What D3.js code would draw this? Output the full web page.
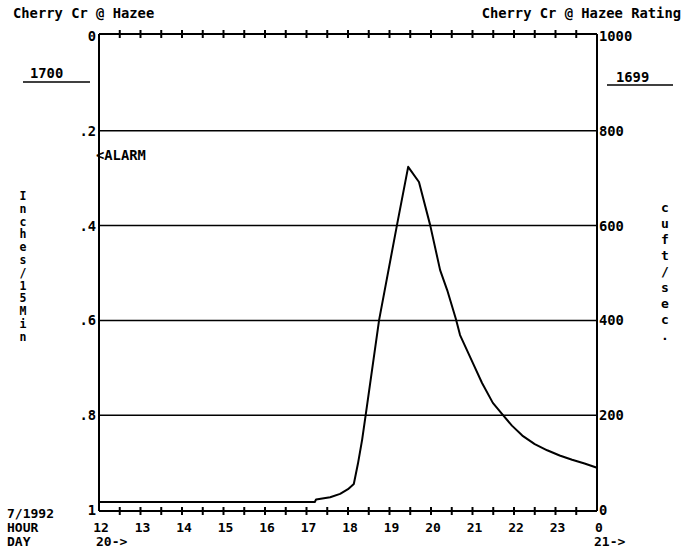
<!DOCTYPE html>
<html>
<head>
<meta charset="utf-8">
<script src="https://cdn.jsdelivr.net/npm/d3@7"></script>
<style>
  html, body { margin: 0; padding: 0; background: #fff; }
  svg text { font-family: "DejaVu Sans Mono", "Liberation Mono", monospace; font-weight: bold; fill: #000; }
</style>
</head>
<body>
<svg id="chart" width="696" height="548"></svg>
<script>
// Stream flow at Cherry Cr @ Hazee, 20 July 1992 (hour of day, cu ft/sec)
const flowHours = [12.0, 17.2, 17.23, 17.57, 17.81, 18.0, 18.14, 18.24, 18.34, 18.43, 18.75, 19.18, 19.45,
                   19.71, 19.98, 20.22, 20.39, 20.60, 20.70, 21.01, 21.23, 21.49, 21.71, 21.95, 22.2, 22.5,
                   22.8, 23.1, 23.4, 23.7, 24.0];
const flowCfs   = [17, 17, 22, 27, 34, 44, 55, 98, 148, 203, 401, 601, 724,
                   692, 601, 506, 464, 403, 369, 310, 268, 226, 203, 178, 157, 139,
                   126, 115, 106, 98, 89];

// Axis ticks and labels
const rainTicks   = [0, 0.2, 0.4, 0.6, 0.8, 1];
const rainLabels  = ["0", ".2", ".4", ".6", ".8", "1"];
const flowTicks   = [1000, 800, 600, 400, 200, 0];
const hourTicks   = [12, 13, 14, 15, 16, 17, 18, 19, 20, 21, 22, 23, 24];
const hourLabels  = ["12", "13", "14", "15", "16", "17", "18", "19", "20", "21", "22", "23", "0"];
const dayMarks    = [{ hour: 12, label: "20->" }, { hour: 24, label: "21->" }];
const leftTitle   = "Inches/15Min";
const rightTitle  = "cuft/sec.";

const svg = d3.select("#chart");
const plotLeft = 99, plotRight = 597, plotTop = 34, plotBottom = 511;
const fs = 13.8;

const x = d3.scaleLinear().domain([12, 24]).range([plotLeft, plotRight]);
const yRain = d3.scaleLinear().domain([0, 1]).range([36, 510]);
const yFlow = d3.scaleLinear().domain([0, 1000]).range([510, 36]);

// Titles
svg.append("text").attr("x", 13).attr("y", 18).attr("font-size", fs).text("Cherry Cr @ Hazee");
svg.append("text").attr("x", 681).attr("y", 18).attr("font-size", fs).attr("text-anchor", "end")
   .text("Cherry Cr @ Hazee Rating");

// Horizontal grid lines
svg.append("g").selectAll("line")
  .data(rainTicks.filter(d => d > 0 && d < 1))
  .join("line")
  .attr("x1", plotLeft).attr("x2", plotRight)
  .attr("y1", d => yRain(d)).attr("y2", d => yRain(d))
  .attr("stroke", "#000").attr("stroke-width", 1.5);

// Frame: top, bottom, left, right axis lines
const frame = svg.append("g").attr("stroke", "#000").attr("stroke-width", 2);
frame.append("line").attr("x1", plotLeft).attr("x2", plotRight).attr("y1", plotTop).attr("y2", plotTop);
frame.append("line").attr("x1", plotLeft).attr("x2", plotRight).attr("y1", plotBottom).attr("y2", plotBottom);
frame.append("line").attr("x1", plotLeft).attr("x2", plotLeft).attr("y1", plotTop).attr("y2", plotBottom);
frame.append("line").attr("x1", plotRight).attr("x2", plotRight).attr("y1", plotTop).attr("y2", plotBottom);

// Half-hour tick marks crossing the top and bottom axes
const halfHours = d3.range(12.5, 24, 0.5);
[plotTop, plotBottom].forEach(yy => {
  svg.append("g").selectAll("line")
    .data(halfHours)
    .join("line")
    .attr("x1", d => x(d)).attr("x2", d => x(d))
    .attr("y1", yy - 4).attr("y2", yy + 4)
    .attr("stroke", "#000").attr("stroke-width", 2);
});

// Left axis labels (rain)
svg.append("g").selectAll("text")
  .data(rainTicks)
  .join("text")
  .attr("x", 96).attr("y", d => yRain(d) + 5)
  .attr("text-anchor", "end").attr("font-size", fs)
  .text((d, i) => rainLabels[i]);

// Right axis labels (flow)
svg.append("g").selectAll("text")
  .data(flowTicks)
  .join("text")
  .attr("x", 599).attr("y", d => yFlow(d) + 5)
  .attr("font-size", fs)
  .text(d => d);

// Hour labels along the bottom
svg.append("g").selectAll("text")
  .data(hourTicks)
  .join("text")
  .attr("x", d => x(d) + 2).attr("y", 532)
  .attr("text-anchor", "middle").attr("font-size", 13)
  .text((d, i) => hourLabels[i]);

svg.append("g").selectAll("text")
  .data(dayMarks)
  .join("text")
  .attr("x", d => x(d.hour) - 3).attr("y", 546)
  .attr("font-size", 13)
  .text(d => d.label);

// Date / row captions
svg.append("text").attr("x", 7).attr("y", 518).attr("font-size", 13).text("7/1992");
svg.append("text").attr("x", 7).attr("y", 532).attr("font-size", 13).text("HOUR");
svg.append("text").attr("x", 7).attr("y", 546).attr("font-size", 13).text("DAY");

// Stacked vertical axis titles
svg.append("g").selectAll("text")
  .data(leftTitle.split(""))
  .join("text")
  .attr("x", 23).attr("y", (d, i) => 200 + i * 12.8)
  .attr("text-anchor", "middle").attr("font-size", 11.5)
  .text(d => d);

svg.append("g").selectAll("text")
  .data(rightTitle.split(""))
  .join("text")
  .attr("x", 665).attr("y", (d, i) => 212 + i * 16)
  .attr("text-anchor", "middle").attr("font-size", 13)
  .text(d => d);

// Total rainfall and peak-rating captions with underlines
svg.append("text").attr("x", 30).attr("y", 78).attr("font-size", fs).text("1700");
svg.append("line").attr("x1", 23).attr("x2", 90).attr("y1", 82).attr("y2", 82)
   .attr("stroke", "#000").attr("stroke-width", 1.5);
svg.append("text").attr("x", 616).attr("y", 82).attr("font-size", fs).text("1699");
svg.append("line").attr("x1", 607).attr("x2", 673).attr("y1", 85).attr("y2", 85)
   .attr("stroke", "#000").attr("stroke-width", 1.5);

// Alarm marker
svg.append("text").attr("x", 96).attr("y", 160).attr("font-size", fs).text("<ALARM");

// Flow hydrograph
const line = d3.line()
  .x((d, i) => x(flowHours[i]))
  .y(d => yFlow(d));
svg.append("path")
  .datum(flowCfs)
  .attr("d", line)
  .attr("fill", "none")
  .attr("stroke", "#000")
  .attr("stroke-width", 2)
  .attr("stroke-linejoin", "round");
</script>
</body>
</html>
